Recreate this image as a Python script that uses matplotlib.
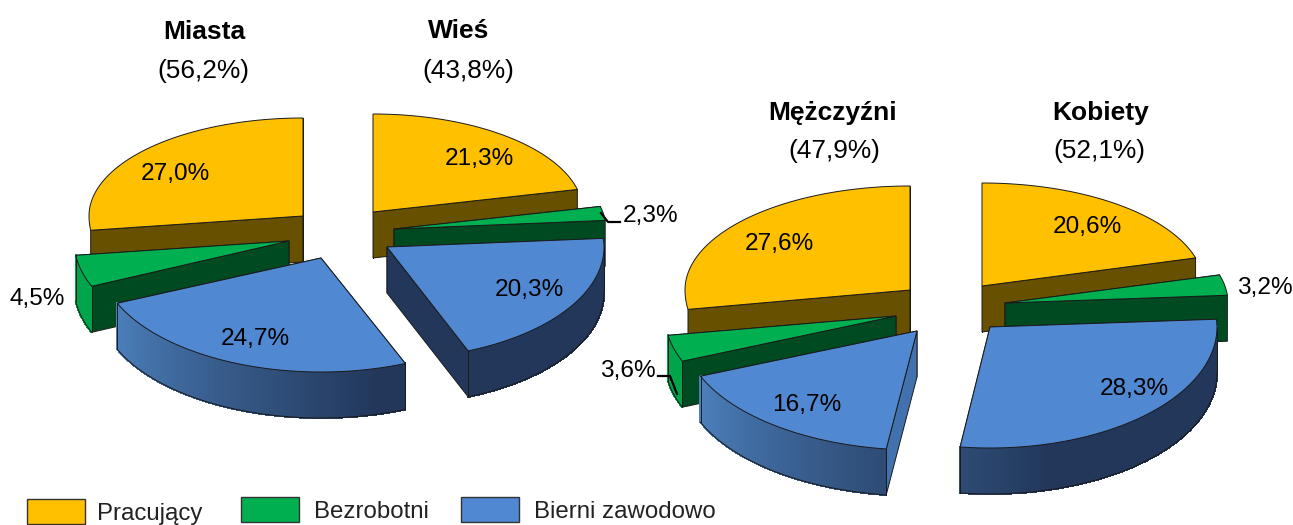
import numpy as np
import matplotlib
matplotlib.use('Agg')
import matplotlib.pyplot as plt
from matplotlib.collections import PolyCollection
from matplotlib.patches import Rectangle

plt.rcParams['font.family'] = ['Liberation Sans', 'DejaVu Sans']

categories = ['Pracujący', 'Bezrobotni', 'Bierni zawodowo']
titles = ['Miasta', 'Wieś', 'Mężczyźni', 'Kobiety']
shares = [56.2, 43.8, 47.9, 52.1]
miasta = [27.0, 4.5, 24.7]
wies = [21.3, 2.3, 20.3]
mezczyzni = [27.6, 3.6, 16.7]
kobiety = [20.6, 3.2, 28.3]

top_colors = ['#FFC000', '#00AF50', '#5088D2']
wall_colors = ['#675000', '#004A22', '#22375A']
EDGE = '#1a1a1a'
DEPTH = 46


def pct(v):
    return f'{v:.1f}%'.replace('.', ',')


def arc(cx, cy, t, rx, ru, rd):
    r = np.radians(t)
    s = np.sin(r)
    return cx + rx * np.cos(r), cy - np.where(s > 0, ru, rd) * s


def rim_color(i, t):
    if i == 1:
        return '#00A44A'
    # blue side goes dark towards the right
    f = np.interp(t % 360, [203, 285], [0, 1])
    light = np.array([0x4c, 0x80, 0xbc]) / 255
    dark = np.array([0x22, 0x37, 0x5a]) / 255
    return tuple(light + (dark - light) * f)


def draw_slice(ax, i, apex, t0, t1, rx, ru, rd, cut_color=None):
    cx, cy = apex
    t = np.linspace(t0, t1, 241)
    x, y = arc(cx, cy, t, rx, ru, rd)

    # flat walls at both cuts
    for k, tc in enumerate([t0, t1]):
        ox, oy = arc(cx, cy, tc, rx, ru, rd)
        c = cut_color if (cut_color and k == 1) else wall_colors[i]
        ax.fill([cx, ox, ox, cx], [cy, oy, oy + DEPTH, cy + DEPTH],
                facecolor=c, edgecolor=EDGE, linewidth=0.7)

    # curved outer side, only where it faces the viewer (yellow one stays hidden)
    front = np.sin(np.radians((t[:-1] + t[1:]) / 2)) < 0
    if front.any() and i > 0:
        quads = []
        cols = []
        for j in np.where(front)[0]:
            quads.append([(x[j], y[j]), (x[j + 1], y[j + 1]),
                          (x[j + 1], y[j + 1] + DEPTH), (x[j], y[j] + DEPTH)])
            cols.append(rim_color(i, t[j]))
        ax.add_collection(PolyCollection(quads, facecolors=cols, edgecolors=cols,
                                         linewidths=0.8, antialiaseds=False))
        idx = np.append(np.where(front)[0], np.where(front)[0][-1] + 1)
        ax.plot(x[idx], y[idx] + DEPTH, color=EDGE, lw=0.7)
        ax.plot([x[idx[0]]] * 2, [y[idx[0]], y[idx[0]] + DEPTH], color=EDGE, lw=0.7)
        ax.plot([x[idx[-1]]] * 2, [y[idx[-1]], y[idx[-1]] + DEPTH], color=EDGE, lw=0.7)

    # top face
    ax.fill(np.r_[cx, x], np.r_[cy, y], facecolor=top_colors[i], edgecolor=EDGE, linewidth=0.7)


def draw_half(ax, values, apexes, direction, rxs, ru, rd, cut_color=None):
    angle = 90.0
    for i, v in enumerate(values):
        end = angle + direction * v * 3.6
        draw_slice(ax, i, apexes[i], angle, end, rxs[i], ru, rd,
                   cut_color if i == 2 else None)
        angle = end


fig = plt.figure(figsize=(12.93, 5.25), dpi=100)
ax = fig.add_axes([0, 0, 1, 1])
ax.set_xlim(0, 1293)
ax.set_ylim(525, 0)
ax.axis('off')

draw_half(ax, miasta, [(303, 216), (289, 241), (321, 258)], 1, [214, 215, 222], 98, 114)
draw_half(ax, wies, [(373, 212), (394, 229), (387, 247)], -1, [210, 212, 217], 98, 112)
draw_half(ax, mezczyzni, [(910, 290), (896, 316), (917, 331)], 1, [225, 231, 234], 104, 119, cut_color='#4272AE')
draw_half(ax, kobiety, [(982, 286), (1005, 303), (990, 327)], -1, [222, 223, 227], 103, 121)

# value labels inside the slices
label_pos = [(175, 174), (479, 159), (255, 339), (529, 290),
             (779, 244), (807, 405), (1087, 227), (1134, 389)]
label_vals = [miasta[0], wies[0], miasta[2], wies[2],
              mezczyzni[0], mezczyzni[2], kobiety[0], kobiety[2]]
for (lx, ly), v in zip(label_pos, label_vals):
    ax.text(lx, ly, pct(v), fontsize=17.6, ha='center', va='center')

# small slices, labelled outside
out_pos = [(37, 299), (651, 216), (628, 371), (1265, 288)]
out_vals = [miasta[1], wies[1], mezczyzni[1], kobiety[1]]
for (lx, ly), v in zip(out_pos, out_vals):
    ax.text(lx, ly, pct(v), fontsize=17.6, ha='center', va='center')
ax.plot([601, 608, 620], [213, 222, 222], color='black', lw=1.6)
ax.plot([658, 670, 677], [376, 376, 394], color='black', lw=1.6)

# headers
title_pos = [(204, 32), (459, 31), (833, 113), (1101, 113)]
share_pos = [(203, 71), (468, 71), (834, 151), (1099, 151)]
for name, s, tp, sp in zip(titles, shares, title_pos, share_pos):
    ax.text(tp[0], tp[1], name, fontsize=19, fontweight='bold', ha='center', va='center')
    ax.text(sp[0], sp[1], f'({pct(s)})', fontsize=18.9, ha='center', va='center')

# legend
box_pos = [(27, 499), (241, 497), (461, 497)]
text_pos = [(97, 514), (314, 512), (534, 512)]
for name, c, bp, tp in zip(categories, top_colors, box_pos, text_pos):
    ax.add_patch(Rectangle(bp, 58, 25, facecolor=c, edgecolor='#333333', linewidth=1))
    ax.text(tp[0], tp[1], name, fontsize=17.3, color='#222222', ha='left', va='center')

fig.savefig('out.png', dpi=100)
